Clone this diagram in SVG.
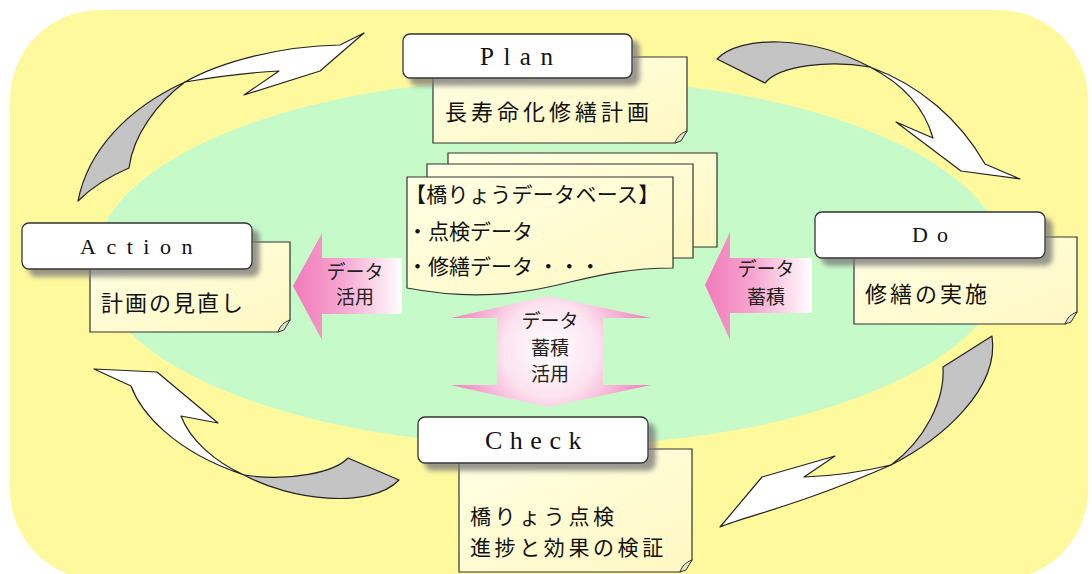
<svg xmlns="http://www.w3.org/2000/svg" width="1092" height="574" viewBox="0 0 1092 574">
<defs>
<filter id="sh" x="-10%" y="-20%" width="130%" height="160%">
<feDropShadow dx="7" dy="7" stdDeviation="2.5" flood-color="#777" flood-opacity="0.75"/>
</filter>
<linearGradient id="noteg" x1="0" y1="0" x2="1" y2="1">
<stop offset="0" stop-color="#FFFFE4"/>
<stop offset="1" stop-color="#FFF8C2"/>
</linearGradient>
<linearGradient id="pinkL" gradientUnits="userSpaceOnUse" x1="293" y1="0" x2="402" y2="0">
<stop offset="0" stop-color="#F27ABA"/>
<stop offset="0.45" stop-color="#F6A6D0"/>
<stop offset="1" stop-color="#FFFFFF"/>
</linearGradient>
<linearGradient id="pinkR" gradientUnits="userSpaceOnUse" x1="705" y1="0" x2="812" y2="0">
<stop offset="0" stop-color="#F27ABA"/>
<stop offset="0.45" stop-color="#F6A6D0"/>
<stop offset="1" stop-color="#FFFFFF"/>
</linearGradient>
<radialGradient id="pinkC" gradientUnits="userSpaceOnUse" cx="550" cy="350" r="105">
<stop offset="0" stop-color="#FFFFFF"/>
<stop offset="0.45" stop-color="#FCE3EF"/>
<stop offset="1" stop-color="#F27ABA"/>
</radialGradient>
<style>
.title{fill:#fff;stroke:#333;stroke-width:1.3;filter:url(#sh)}
.note{fill:url(#noteg);stroke:#333;stroke-width:1.2}
.fold{fill:#E2E2CC;stroke:#333;stroke-width:1}
.ttl{font-family:"Liberation Serif",serif;fill:#111}
.jp{font-family:"Noto Sans CJK JP",sans-serif;fill:#111}
.cg{fill:#C4C4C4;stroke:#222;stroke-width:1.2;stroke-linejoin:round}
.cw{fill:#fff;stroke:#222;stroke-width:1.2;stroke-linejoin:round}
.lbl{font-family:"Noto Sans CJK JP",sans-serif;font-size:19px;fill:#222;text-anchor:middle}
</style>
</defs>

<rect x="10" y="10" width="1078" height="570" rx="90" fill="#FFF99E"/>
<ellipse cx="550" cy="262" rx="455" ry="184" fill="#C6FBC9"/>

<g id="connectors">
<g id="cycle-action-plan">
<path class="cg" d="M78,201 C88,150 128,108 185,82 C158,102 133,135 129,168 C110,176 92,187 78,201 Z"/>
<path class="cw" d="M185,82 C220,62 280,46 340,45 L364,33 L320,71 L244,95 L279,71 C258,72 232,74 185,82 Z"/>
</g>
<g id="cycle-plan-do">
<path class="cg" d="M717,59 C740,35 810,35 870,67 C830,60 780,65 765,83 Z"/>
<path class="cw" d="M870,67 C920,85 960,120 985,164 L1020,179 L961,171 L896,122 L933,138 C925,110 905,85 870,67 Z"/>
</g>
<g id="cycle-do-check">
<path class="cg" d="M943,367 C945,400 925,440 891,465 C940,440 1000,390 992,336 Z"/>
<path class="cw" d="M891,465 C870,470 840,476 804,477 L835,456 L762,477 L720,527 C750,515 800,505 891,465 Z"/>
</g>
<g id="cycle-check-action">
<path class="cg" d="M348,458 C335,472 290,482 244,475 C290,500 370,510 399,480 Z"/>
<path class="cw" d="M244,475 C215,462 190,440 181,416 L218,423 L157,372 L94,369 L131,386 C140,410 170,450 244,475 Z"/>
</g>
</g>

<g id="node-plan">
<path class="note" d="M433,57 H687 V131 L675,143 H433 Z"/>
<path class="fold" d="M675,143 C677,137 681,133 687,131 L681,141 Z"/>
<rect class="title" x="403" y="34" width="229" height="44" rx="7"/>
<text class="ttl" x="480" y="65" font-size="25" letter-spacing="9.5">Plan</text>
<text class="jp" x="445" y="120" font-size="22" letter-spacing="4">長寿命化修繕計画</text>
</g>

<g id="node-action">
<path class="note" d="M90,242 H290 V320 L278,332 H90 Z"/>
<path class="fold" d="M278,332 C280,326 284,322 290,320 L284,330 Z"/>
<rect class="title" x="22" y="223" width="230" height="46" rx="7"/>
<text class="ttl" x="80" y="254" font-size="22" letter-spacing="10.5">Action</text>
<text class="jp" x="101" y="311" font-size="22" letter-spacing="2">計画の見直し</text>
</g>

<g id="node-do">
<path class="note" d="M854,237 H1077 V312 L1065,324 H854 Z"/>
<path class="fold" d="M1065,324 C1067,318 1071,314 1077,312 L1071,322 Z"/>
<rect class="title" x="815" y="212" width="230" height="46" rx="7"/>
<text class="ttl" x="912" y="242" font-size="22" letter-spacing="9">Do</text>
<text class="jp" x="865" y="302" font-size="22" letter-spacing="3">修繕の実施</text>
</g>

<g id="node-check">
<path class="note" d="M459,449 H692 V560 L680,572 H459 Z"/>
<path class="fold" d="M680,572 C682,566 686,562 692,560 L686,570 Z"/>
<rect class="title" x="418" y="417" width="230" height="46" rx="7"/>
<text class="ttl" x="485" y="449" font-size="26" letter-spacing="7.5">Check</text>
<text class="jp" font-size="21" letter-spacing="3.6"><tspan x="470" y="524">橋りょう点検</tspan><tspan x="470" y="555">進捗と効果の検証</tspan></text>
</g>

<g id="node-database">
<path class="note" d="M448,153 H717 V247 H448 Z"/>
<path class="note" d="M427,164 H693 V258 H427 Z"/>
<path class="note" d="M407,177 H673 V268 C630,268 600,275 570,282 C520,295 470,300 407,288 Z"/>
<text class="jp" x="405" y="202" font-size="21" letter-spacing="0.3">【橋りょうデータベース】</text>
<text class="jp" x="407" y="239" font-size="21">・点検データ</text>
<text class="jp" x="407" y="274" font-size="21">・修繕データ ・・・</text>
</g>

<g id="data-flows">
<path d="M293,286 L322,233 L322,258 L402,258 L402,314 L322,314 L322,340 Z" fill="url(#pinkL)"/>
<text class="lbl" x="355" y="279">データ</text>
<text class="lbl" x="355" y="304">活用</text>
<path d="M705,285 L730,232 L730,258 L812,258 L812,313 L730,313 L730,340 Z" fill="url(#pinkR)"/>
<text class="lbl" x="766" y="276">データ</text>
<text class="lbl" x="766" y="304">蓄積</text>
<path d="M548,296 L651,318 L603,318 L603,385 L651,385 L548,407 L451,385 L497,385 L497,318 L451,318 Z" fill="url(#pinkC)"/>
<text class="lbl" x="550" y="328">データ</text>
<text class="lbl" x="550" y="355">蓄積</text>
<text class="lbl" x="550" y="381">活用</text>
</g>
</svg>
